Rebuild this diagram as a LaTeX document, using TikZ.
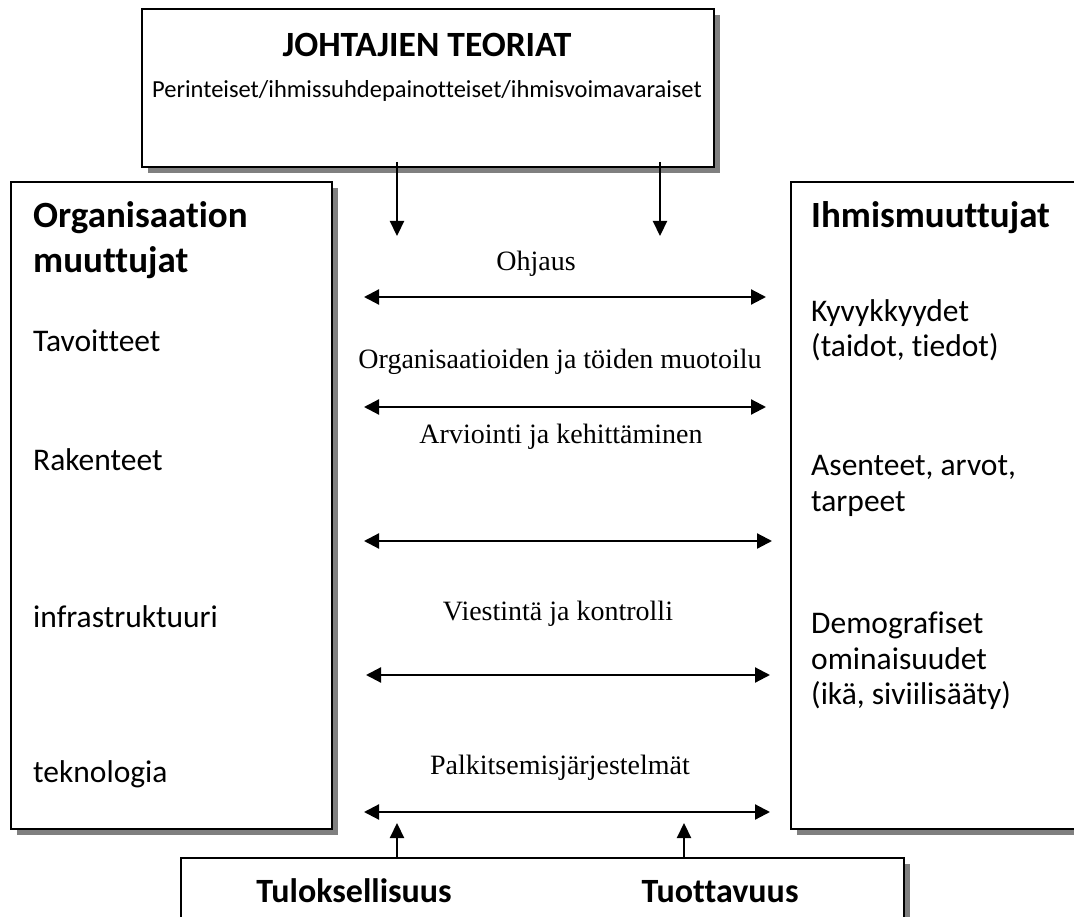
\documentclass[tikz,border=0pt]{standalone}
\usepackage{fontspec}
\setmainfont[Ligatures=NoCommon]{Carlito}
\newfontfamily\labelfont{Liberation Serif}
\usetikzlibrary{arrows.meta,shadows}
\begin{document}
\begin{tikzpicture}[x=1pt,y=-1pt,
  panel/.style={draw=black, line width=1.8pt, fill=white, inner sep=0pt,
    anchor=north west,
    drop shadow={shadow xshift=6pt, shadow yshift=-6pt, opacity=1, fill=black!50}},
  flow/.style={line width=2.2pt, -{Triangle[length=15pt,width=14pt]}},
  both/.style={line width=2.2pt, {Triangle[length=15pt,width=15pt]}-{Triangle[length=15pt,width=15pt]}},
  lbl/.style={anchor=base, inner sep=0pt, font=\labelfont\fontsize{28}{32}\selectfont},
  txt/.style={anchor=base west, inner sep=0pt, font=\fontsize{31.5}{36}\selectfont},
  head/.style={anchor=base west, inner sep=0pt, font=\bfseries\fontsize{37}{42}\selectfont},
  outcome/.style={anchor=base, inner sep=0pt, font=\bfseries\fontsize{34}{40}\selectfont},
]
\clip (0,0) rectangle (1074,917);
\fill[white] (0,0) rectangle (1074,917);

% panels
\node[panel, minimum width=572pt, minimum height=158pt] (theory) at (141,8) {};
\node[panel, minimum width=321pt, minimum height=647pt] (org) at (10,181) {};
\node[panel, minimum width=320pt, minimum height=647pt] (people) at (790,181) {};
\node[panel, minimum width=723pt, minimum height=90pt] (result) at (180,857) {};

% top panel texts
\node[anchor=base, inner sep=0pt, font=\bfseries\fontsize{35.5}{42}\selectfont] (title) at (427,57) {JOHTAJIEN TEORIAT};
\node[anchor=base, inner sep=0pt, font=\fontsize{24.5}{28}\selectfont] (types) at (427,98) {Perinteiset/ihmissuhdepainotteiset/ihmisvoimavaraiset};

% organisation variables
\node[head] (orgA) at (33,228) {Organisaation};
\node[head] (orgB) at (33,273) {muuttujat};
\node[txt] (o1) at (33,352) {Tavoitteet};
\node[txt] (o2) at (33,470) {Rakenteet};
\node[txt] (o3) at (33,627) {infrastruktuuri};
\node[txt] (o4) at (33,782) {teknologia};

% human variables
\node[head] (hum) at (811,228) {Ihmismuuttujat};
\node[txt] (h1) at (811,322) {Kyvykkyydet};
\node[txt] (h2) at (811,356) {(taidot, tiedot)};
\node[txt] (h3) at (811,475) {Asenteet, arvot,};
\node[txt] (h4) at (811,511) {tarpeet};
\node[txt] (h5) at (811,633) {Demografiset};
\node[txt] (h6) at (811,669) {ominaisuudet};
\node[txt] (h7) at (811,704) {(ikä, siviilisääty)};

% outcomes
\node[outcome] (res1) at (354,902) {Tuloksellisuus};
\node[outcome] (res2) at (720,902) {Tuottavuus};

% mechanism labels
\node[lbl] (m1) at (536,271) {Ohjaus};
\node[lbl] (m2) at (560,368) {Organisaatioiden ja töiden muotoilu};
\node[lbl] (m3) at (561,443) {Arviointi ja kehittäminen};
\node[lbl] (m4) at (558,620) {Viestintä ja kontrolli};
\node[lbl] (m5) at (560,774) {Palkitsemisjärjestelmät};

% arrow end points
\coordinate (d1) at (397,236);
\coordinate (d2) at (660,236);
\coordinate (u1) at (397,823);
\coordinate (u2) at (684,823);
\coordinate (a1l) at (364,297); \coordinate (a1r) at (766,297);
\coordinate (a2l) at (364,407); \coordinate (a2r) at (766,407);
\coordinate (a3l) at (364,541); \coordinate (a3r) at (772,541);
\coordinate (a4l) at (366,675); \coordinate (a4r) at (770,675);
\coordinate (a5l) at (364,812); \coordinate (a5r) at (770,812);

% connectors (the downward ones start just inside the top panel)
\draw[flow] ([yshift=6pt]theory.south -| d1) -- (d1);
\draw[flow] ([yshift=6pt]theory.south -| d2) -- (d2);
\draw[flow] (result.north -| u1) -- (u1);
\draw[flow] (result.north -| u2) -- (u2);
\draw[both] (a1l) -- (a1r);
\draw[both] (a2l) -- (a2r);
\draw[both] (a3l) -- (a3r);
\draw[both] (a4l) -- (a4r);
\draw[both] (a5l) -- (a5r);
\end{tikzpicture}
\end{document}
